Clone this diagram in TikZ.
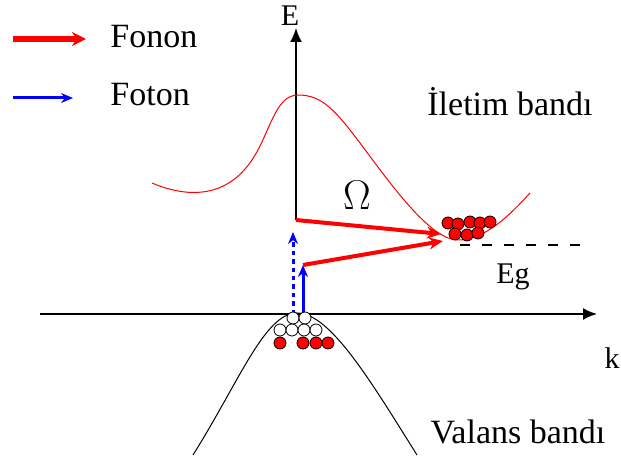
\documentclass[tikz,border=0pt]{standalone}
\usepackage{fontspec}
\setmainfont{Liberation Serif}
\usetikzlibrary{arrows.meta}

\begin{document}
\begin{tikzpicture}[
  x=0.5pt, y=-0.5pt,
  txt/.style={font=\fontsize{17}{20}\selectfont, inner sep=0pt},
  axis/.style={line width=0.9pt, -{Latex[length=7pt,width=6pt]}},
  band/.style={line width=0.5pt},
  phonon/.style={red, line width=2pt, -{Stealth[length=7pt,width=6pt]}},
  photon/.style={blue, line width=1.5pt, -{Stealth[length=6pt,width=5pt]}},
  electron/.style={circle, draw=black, fill=red, line width=0.4pt,
    minimum size=6pt, inner sep=0pt},
  hole/.style={electron, fill=white}
]
  \useasboundingbox (0,0) rectangle (621,464);

  % Axes: E starts where the phonon jump begins.
  \coordinate (O)  at (296,220);
  \coordinate (Et) at (296,28);
  \coordinate (kl) at (40,314);
  \coordinate (kr) at (597,314);
  \draw[axis] (O) -- (Et);
  \draw[axis] (kl) -- (kr);
  \node[txt, font=\fontsize{15}{18}\selectfont] (E) at (290,16) {E};
  \node[txt, font=\fontsize{15}{18}\selectfont] (k) at (612,358) {k};

  % Conduction band (indirect minimum) and valence band.
  \draw[band, red] (152,183) .. controls (185,197) and (225,200) .. (252,160)
    .. controls (270,133) and (275,95) .. (298,95)
    .. controls (322,95) and (335,110) .. (360,143)
    .. controls (390,183) and (430,240) .. (458,240)
    .. controls (485,240) and (510,215) .. (530,193);
  \draw[band] (193,455) .. controls (240,380) and (265,313) .. (297,313)
    .. controls (330,313) and (370,380) .. (417,455);

  % Band edge.
  \coordinate (g1) at (460,245);
  \coordinate (g2) at (580,245);
  \draw[line width=0.8pt, dash pattern=on 5pt off 6pt] (g1) -- (g2);

  % Photon absorption, then phonon assisted transitions.
  \coordinate (p1) at (293,314);
  \coordinate (p2) at (293,232);
  \coordinate (p3) at (303,314);
  \coordinate (p4) at (303,265);
  \coordinate (cmin) at (441,234);
  \coordinate (cmin2) at (443,241);
  \draw[photon, dash pattern=on 2.2pt off 2pt] (p1) -- (p2);
  \draw[photon] (p3) -- (p4);
  \draw[phonon] (O) -- (cmin);
  \draw[phonon] (p4) -- (cmin2);

  % Electrons in the conduction band valley.
  \foreach \x/\y [count=\i] in {448/223, 458/224, 470/222, 480/223, 490/222,
                                455/234, 467/235, 478/233}
    \node[electron] (e\i) at (\x,\y) {};

  % Holes and electrons at the valence band top.
  \foreach \x/\y [count=\i] in {293/318, 305/318, 280/330, 292/330, 304/330, 316/330}
    \node[hole] (h\i) at (\x,\y) {};
  \foreach \x/\y [count=\i] in {280/343, 303/343, 316/343, 328/343}
    \node[electron] (v\i) at (\x,\y) {};

  % Labels.
  \node[txt, font=\fontsize{20}{22}\selectfont] (Om) at (357,195) {$\Omega$};
  \node[txt, font=\fontsize{15}{18}\selectfont] (Eg) at (513,277) {Eg};
  \node[txt] (cb) at (510,102) {İletim bandı};
  \node[txt] (vb) at (518,432) {Valans bandı};

  % Legend.
  \coordinate (l1) at (13,39);
  \coordinate (l2) at (86,39);
  \coordinate (l3) at (13,98);
  \coordinate (l4) at (73,98);
  \draw[red, line width=3pt, -{Stealth[length=7pt,width=7pt]}] (l1) -- (l2);
  \draw[photon] (l3) -- (l4);
  \node[txt, anchor=west] (fonon) at (110,37) {Fonon};
  \node[txt, anchor=west] (foton) at (110,95) {Foton};
\end{tikzpicture}
\end{document}
